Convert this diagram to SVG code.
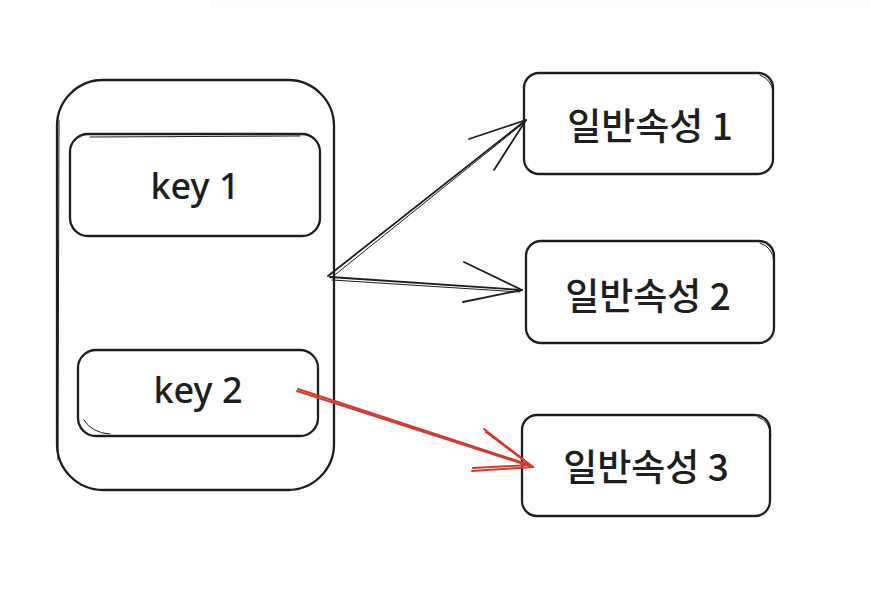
<svg xmlns="http://www.w3.org/2000/svg" width="870" height="592" viewBox="0 0 870 592">
<style>
.box{fill:none;stroke:#1e1e1e;stroke-width:2.3;stroke-linecap:round;stroke-linejoin:round}
.thin{fill:none;stroke:#1e1e1e;stroke-width:1;stroke-linecap:round}
.lbl{font-family:"Noto Sans","Noto Sans CJK KR",sans-serif;font-size:36px;font-weight:500;fill:#1e1e1e;text-anchor:middle;dominant-baseline:central}
.ko{font-family:"Noto Sans CJK KR","Noto Sans",sans-serif;font-size:37px;font-weight:500;fill:#1e1e1e;text-anchor:middle;dominant-baseline:central}
.ar{fill:none;stroke:#1e1e1e;stroke-width:1.8;stroke-linecap:round;stroke-linejoin:round}
.red{fill:none;stroke:#d03a30;stroke-width:2;stroke-linecap:round;stroke-linejoin:round}
</style>
<rect width="870" height="592" fill="#ffffff"/>
<rect x="210" y="0" width="660" height="9" fill="#fcfcfc"/>
<g id="container">
<rect class="box" x="57" y="80" width="277" height="410" rx="46"/>
<path class="thin" d="M59 120 L58 460"/>
</g>
<g id="key1">
<rect class="box" x="70" y="134" width="250" height="102" rx="18"/>
<path class="thin" d="M90 137 L300 136"/>
<text class="lbl" x="195" y="185">key 1</text>
</g>
<g id="key2">
<rect class="box" x="78" y="350" width="240" height="86" rx="18"/>
<path class="thin" d="M84 420 Q92 433 110 434"/>
<text class="lbl" x="198" y="389">key 2</text>
</g>
<g id="attr1">
<rect class="box" x="524" y="73" width="249" height="101" rx="15"/>
<path class="thin" d="M760 75 Q772 80 773 92"/>
<text class="ko" x="650" y="124">일반속성 1</text>
</g>
<g id="attr2">
<rect class="box" x="526" y="241" width="248" height="102" rx="15"/>
<path class="thin" d="M760 243 Q773 247 774 262"/>
<text class="ko" x="648" y="294">일반속성 2</text>
</g>
<g id="attr3">
<rect class="box" x="522" y="415" width="248" height="101" rx="15"/>
<path class="thin" d="M758 417 Q770 421 771 436"/>
<text class="ko" x="646" y="465">일반속성 3</text>
</g>
<g id="connectors">
<path class="ar" d="M328 276 L526 120"/>
<path class="thin" d="M331 278 L525 122"/>
<path class="ar" d="M469 139 L526 120 L494 170"/>
<path class="ar" d="M330 277 L522 290"/>
<path class="thin" d="M332 280 L520 292"/>
<path class="ar" d="M464 262 L522 290 L463 302"/>
<path class="red" d="M297 391 L533 467"/>
<path class="red" d="M298 389 L530 465" stroke-width="1"/>
<path class="red" d="M484 429 L533 467 L472 471"/>
<path class="red" d="M486 432 L530 465 L473 468" stroke-width="1"/>
</g>
</svg>
